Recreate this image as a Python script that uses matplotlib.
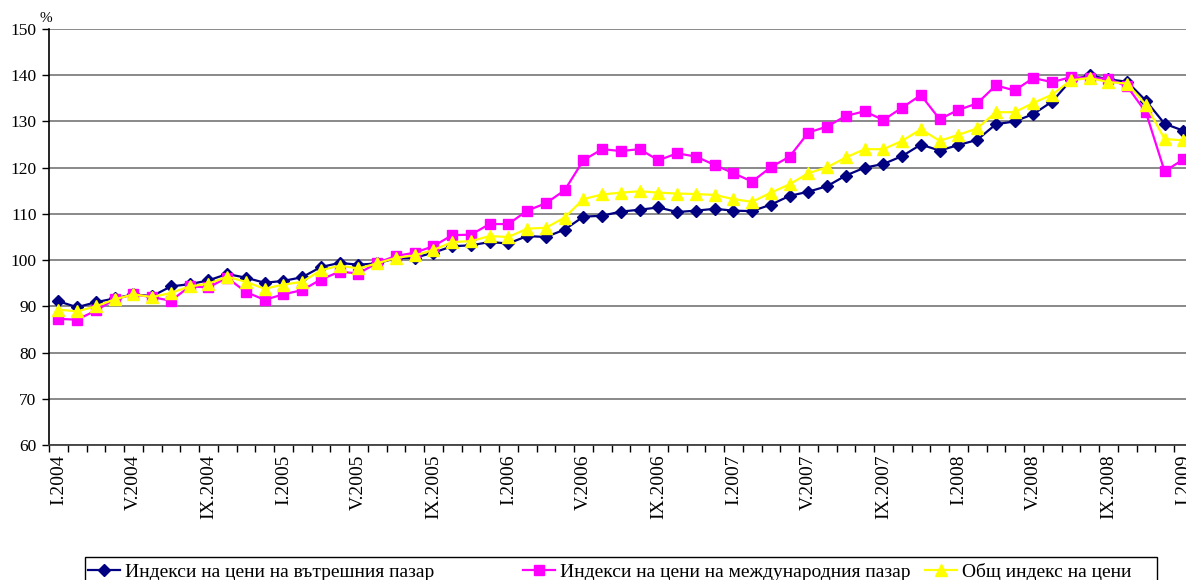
import numpy as np
import matplotlib
matplotlib.use("Agg")
import matplotlib.pyplot as plt
from matplotlib.lines import Line2D
from matplotlib.patches import Rectangle

# ---- data -------------------------------------------------------------
months = ["I", "II", "III", "IV", "V", "VI", "VII", "VIII", "IX", "X", "XI", "XII"]
years = [2004, 2005, 2006, 2007, 2008, 2009]
periods = [f"{m}.{y}" for y in years for m in months][:61]

domestic = [91.1, 89.8, 90.9, 91.7, 92.6, 92.2, 94.3, 94.8, 95.6, 97.0,
            96.2, 95.1, 95.5, 96.3, 98.5, 99.4, 99.0, 99.3, 100.4, 100.5,
            101.6, 103.0, 103.2, 103.9, 103.6, 105.2, 105.0, 106.6, 109.4, 109.6,
            110.5, 110.9, 111.4, 110.4, 110.7, 111.1, 110.7, 110.6, 112.0, 113.9,
            114.8, 116.0, 118.3, 120.0, 120.8, 122.5, 125.0, 123.7, 124.9, 126.0,
            129.4, 130.0, 131.6, 134.3, 138.9, 140.0, 139.1, 138.6, 134.5, 129.5,
            128.0]
international = [87.3, 87.1, 89.1, 91.5, 92.6, 92.0, 91.2, 94.3, 94.1, 96.2,
                 93.1, 91.4, 92.6, 93.5, 95.8, 97.5, 97.1, 99.4, 100.9, 101.6,
                 103.0, 105.4, 105.5, 107.8, 107.8, 110.7, 112.3, 115.1, 121.6, 124.0,
                 123.6, 124.0, 121.6, 123.1, 122.4, 120.6, 118.8, 117.0, 120.1, 122.4,
                 127.6, 128.9, 131.2, 132.2, 130.3, 133.0, 135.7, 130.5, 132.5, 133.9,
                 137.8, 136.7, 139.4, 138.5, 139.6, 139.4, 139.2, 137.6, 132.0, 119.2,
                 121.8]
total = [89.3, 88.9, 90.0, 91.5, 92.6, 92.0, 92.9, 94.3, 94.9, 96.4,
         95.3, 93.8, 94.7, 95.3, 97.8, 98.8, 98.2, 99.3, 100.5, 101.0,
         102.2, 103.9, 104.1, 105.2, 105.0, 106.8, 107.0, 109.2, 113.2, 114.2,
         114.6, 114.9, 114.6, 114.4, 114.3, 114.1, 113.2, 112.6, 114.6, 116.4,
         118.8, 120.1, 122.2, 124.0, 124.0, 125.8, 128.3, 125.8, 127.1, 128.5,
         132.0, 132.0, 134.0, 135.8, 138.9, 139.4, 138.5, 138.2, 133.6, 126.2,
         125.9]

series_labels = ["Индекси на цени на вътрешния пазар",
                 "Индекси на цени на международния пазар",
                 "Общ индекс на цени"]
y_ticks = [60, 70, 80, 90, 100, 110, 120, 130, 140, 150]

# ---- figure -----------------------------------------------------------
W, H = 1186, 580
fig = plt.figure(figsize=(W / 100, H / 100), dpi=100)
plt.rcParams['font.family'] = ['Liberation Serif', 'DejaVu Serif']

def fx(px):
    return px / W

def fy(py):
    return 1 - py / H

left_px, right_px, top_px, bot_px = 49, 49 + 61 * 18.75, 29, 445
ax = fig.add_axes([fx(left_px), fy(bot_px), fx(right_px - left_px), (bot_px - top_px) / H])

x = np.arange(len(periods))
navy, magenta, yellow = "#000080", "#FF00FF", "#FFFF00"
ax.plot(x, domestic, color=navy, lw=1.6, marker="D", ms=6, mec=navy, mfc=navy, zorder=3)
ax.plot(x, international, color=magenta, lw=1.6, marker="s", ms=7, mec=magenta, mfc=magenta, zorder=4)
ax.plot(x, total, color=yellow, lw=1.6, marker="^", ms=8.5, mec=yellow, mfc=yellow, zorder=5)

ax.set_xlim(-0.5, len(periods) - 0.5)
ax.set_ylim(60, 150)
ax.set_yticks(y_ticks)
ax.set_yticklabels([str(v) for v in y_ticks], fontsize=12.5)
ax.yaxis.grid(True, color="#808080", lw=1.3)
ax.set_axisbelow(True)

# category boundary ticks (major, no labels), labels at every 4th category (minor)
ax.set_xticks(np.arange(-0.5, len(periods), 1.0))
ax.set_xticklabels([])
lab_pos = x[::4]
ax.set_xticks(lab_pos, minor=True)
ax.set_xticklabels([periods[i] for i in lab_pos], minor=True, rotation=90,
                   fontsize=14, va="top", ha="center")
ax.tick_params(axis="x", which="major", direction="out", length=5, width=1, color="black")
ax.tick_params(axis="x", which="minor", length=0, pad=7)
ax.tick_params(axis="y", direction="out", length=5, width=1, color="black", pad=4)

for s in ["top", "right"]:
    ax.spines[s].set_visible(False)
ax.spines["left"].set_color("black")
ax.spines["bottom"].set_color("#404040")
ax.spines["left"].set_linewidth(1.2)
ax.spines["bottom"].set_linewidth(1.3)

fig.text(fx(40), fy(18), "%", fontsize=11, ha="left", va="center")

# ---- legend -----------------------------------------------------------
fig.patches.append(Rectangle((fx(85), fy(581)), fx(1157 - 85), (581 - 557) / H,
                             transform=fig.transFigure, fill=False, ec="black", lw=1))
handles = [
    Line2D([], [], color=navy, lw=1.6, marker="D", ms=6, mec=navy, mfc=navy),
    Line2D([], [], color=magenta, lw=1.6, marker="s", ms=7, mec=magenta, mfc=magenta),
    Line2D([], [], color=yellow, lw=1.6, marker="^", ms=8.5, mec=yellow, mfc=yellow),
]
starts = [88, 523, 925]
for h, lab, sx in zip(handles, series_labels, starts):
    fig.legend([h], [lab], loc="center left", bbox_to_anchor=(fx(sx), fy(572)),
               frameon=False, fontsize=14, handlelength=1.65, handletextpad=0.25,
               borderpad=0, borderaxespad=0)

fig.savefig("out.png", dpi=100)
